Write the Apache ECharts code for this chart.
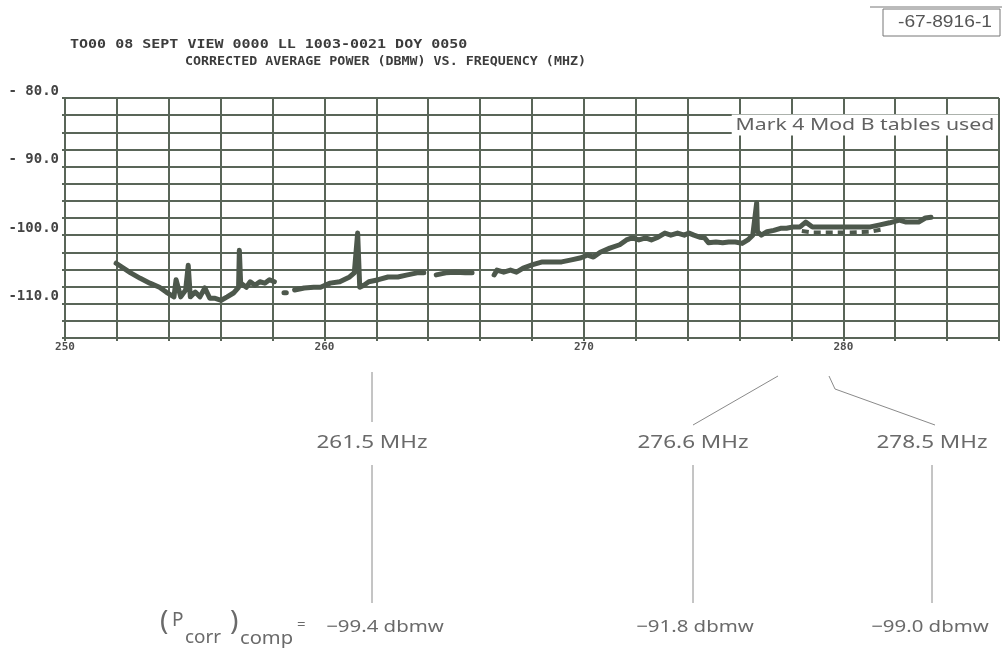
<!DOCTYPE html>
<html><head><meta charset="utf-8">
<script src="https://cdn.jsdelivr.net/npm/echarts@6/dist/echarts.min.js"></script>
<style>html,body{margin:0;padding:0;background:#fff}#c{width:1002px;height:648px}</style>
</head><body><div id="c"></div>
<script>
// ---- data ----
const titleLine1 = 'TO00 08 SEPT VIEW 0000 LL 1003-0021 DOY 0050';
const titleLine2 = 'CORRECTED AVERAGE POWER (DBMW) VS. FREQUENCY (MHZ)';
const figureId = '-67-8916-1';
const noteText = 'Mark 4 Mod B tables used';

const yTickValues = [-80, -90, -100, -110];
const yTickLabels = ['- 80.0', '- 90.0', '-100.0', '-110.0'];
const xTickValues = [250, 260, 270, 280];
const xTickLabels = ['250', '260', '270', '280'];

// main trace (MHz, dBmW); null = gap in the plotter trace
const freqMHz = [
  251.97,252.53,252.90,253.27,253.64,253.90,254.20,254.28,254.46,254.65,254.75,254.83,255.02,255.20,255.39,255.58,255.76,
  256.02,256.25,256.51,256.69,256.72,256.77,256.99,257.14,257.32,257.51,257.70,257.88,258.07,
  258.20,
  258.44,258.53,
  258.65,
  258.85,259.22,259.59,259.85,260.22,260.59,260.97,261.15,261.28,261.36,261.52,261.71,262.08,262.45,262.83,263.20,263.57,263.83,
  264.05,
  264.31,264.68,265.06,265.43,265.69,
  266.10,
  266.54,266.65,266.91,267.17,267.40,267.66,268.03,268.40,268.77,269.14,269.52,269.89,270.15,270.37,270.63,271.00,271.38,271.64,
  271.86,272.12,272.38,272.60,272.86,273.12,273.35,273.61,273.87,274.05,274.24,274.46,274.65,274.80,275.09,275.35,275.58,275.84,
  276.10,276.32,276.51,276.66,276.69,276.84,277.06,277.32,277.58,277.81,278.07,278.33,278.55,278.81,279.18,279.55,279.93,280.30,
  280.67,281.04,281.41,281.78,282.16,282.42,282.90,283.16,283.38
];
const powerDbmw = [
  -104.1,-105.5,-106.3,-107.0,-107.6,-108.3,-109.0,-106.5,-109.0,-108.0,-104.4,-109.0,-108.3,-109.0,-107.7,-109.2,-109.2,
  -109.5,-109.0,-108.4,-107.6,-102.2,-107.0,-107.6,-106.8,-107.3,-106.8,-107.0,-106.5,-106.8,
  null,
  -108.4,-108.4,
  null,
  -108.0,-107.7,-107.6,-107.6,-107.0,-106.8,-106.1,-105.5,-99.7,-107.6,-107.3,-106.8,-106.5,-106.1,-106.1,-105.8,-105.5,-105.5,
  null,
  -105.8,-105.5,-105.4,-105.5,-105.5,
  null,
  -105.8,-105.1,-105.4,-105.1,-105.4,-104.8,-104.3,-103.9,-103.9,-103.9,-103.6,-103.3,-102.9,-103.2,-102.5,-101.9,-101.4,-100.7,
  -100.4,-100.7,-100.4,-100.7,-100.3,-99.7,-100.0,-99.7,-100.0,-99.7,-100.0,-100.3,-100.4,-101.1,-101.0,-101.1,-101.0,-101.0,
  -101.2,-100.7,-100.0,-95.3,-99.5,-100.0,-99.5,-99.3,-99.0,-99.0,-98.8,-98.8,-98.1,-98.8,-98.8,-98.8,-98.8,-98.8,
  -98.8,-98.8,-98.5,-98.2,-97.8,-98.1,-98.1,-97.5,-97.4
];
// lower, broken (dashed) branch of the trace near 279-282 MHz
const lowerFreqMHz = [278.40, 278.80, 279.50, 280.30, 281.00, 281.60];
const lowerPowerDbmw = [-99.4, -99.6, -99.6, -99.6, -99.5, -99.1];

// call-outs below the plot
const calloutFreqs = ['261.5 MHz', '276.6 MHz', '278.5 MHz'];
const calloutValues = ['\u221299.4 dbmw', '\u221291.8 dbmw', '\u221299.0 dbmw'];

// ---- chart ----
const ink = '#596558';
const trace = '#4d584c';
const gray = '#6a6a6a';
const toPairs = (xs, ys) => xs.map((x, i) => [x, ys[i] === null ? '-' : ys[i]]);

const chart = echarts.init(document.getElementById('c'), null, {renderer: 'canvas'});

const annFont = '"Noto Sans", Lato, sans-serif';
const g = [];
// titles
g.push({type:'text', x:70, y:45, scaleX:1.25, style:{x:0, y:0, text:titleLine1, font:'bold 12px "DejaVu Sans Mono"', fill:'#3c3c3c', textVerticalAlign:'middle'}});
g.push({type:'text', x:185, y:62, scaleX:1.11, style:{x:0, y:0, text:titleLine2, font:'bold 12px "DejaVu Sans Mono"', fill:'#3c3c3c', textVerticalAlign:'middle'}});
// figure id box
g.push({type:'line', shape:{x1:870, y1:7, x2:1002, y2:7}, style:{stroke:'#777', lineWidth:1}});
g.push({type:'rect', shape:{x:883, y:9, width:117, height:27}, style:{fill:'none', stroke:'#777', lineWidth:1}});
g.push({type:'text', x:945, y:23, scaleX:1.2, style:{x:0, y:0, text:figureId, font:'16px "Liberation Sans Narrow", "Liberation Sans", sans-serif', fill:'#555', textAlign:'center', textVerticalAlign:'middle'}});
// note inside plot
g.push({type:'text', x:998, y:125, z:100, scaleX:1.25, style:{x:0, y:0, text:noteText, font:'17px ' + annFont, fill:'#626262', textAlign:'right', textVerticalAlign:'middle', backgroundColor:'#fff', padding:[2,3]}});
// callout leader lines
const lead = {stroke:'#8a8a8a', lineWidth:1};
g.push({type:'line', shape:{x1:372, y1:372, x2:372, y2:422}, style:lead});
g.push({type:'line', shape:{x1:778, y1:376, x2:693, y2:425}, style:lead});
g.push({type:'polyline', shape:{points:[[829,376],[835,389],[935,425]]}, style:{stroke:'#8a8a8a', lineWidth:1, fill:'none'}});
const cx = [372, 693, 932];
calloutFreqs.forEach((t, i) => {
  g.push({type:'text', x:cx[i], y:443, scaleX:1.25, style:{x:0, y:0, text:t, font:'18px ' + annFont, fill:gray, textAlign:'center', textVerticalAlign:'middle'}});
  g.push({type:'line', shape:{x1:cx[i], y1:465, x2:cx[i], y2:603}, style:lead});
});
const vx = [385, 695, 930];
calloutValues.forEach((t, i) => {
  g.push({type:'text', x:vx[i], y:627, scaleX:1.2, style:{x:0, y:0, text:t, font:'17px ' + annFont, fill:gray, textAlign:'center', textVerticalAlign:'middle'}});
});
// (P_corr)_comp =
const fs = (s) => s + 'px ' + annFont;
g.push({type:'text', x:160, y:622, style:{text:'(', font:fs(28), fill:gray, textVerticalAlign:'middle'}});
g.push({type:'text', x:172, y:621, style:{text:'P', font:fs(19), fill:gray, textVerticalAlign:'middle'}});
g.push({type:'text', x:185, y:638, scaleX:1.05, style:{x:0, y:0, text:'corr', font:fs(18), fill:gray, textVerticalAlign:'middle'}});
g.push({type:'text', x:230, y:622, style:{text:')', font:fs(28), fill:gray, textVerticalAlign:'middle'}});
g.push({type:'text', x:240, y:639, scaleX:1.12, style:{x:0, y:0, text:'comp', font:fs(18), fill:gray, textVerticalAlign:'middle'}});
g.push({type:'text', x:297, y:625, style:{text:'=', font:fs(15), fill:gray, textVerticalAlign:'middle'}});

const option = {
  backgroundColor: '#ffffff',
  animation: false,
  grid: {left: 65, top: 98, height: 240, width: 968.4, containLabel: false},
  xAxis: {
    type: 'value', min: 250, max: 286, interval: 2,
    axisLine: {show: true, lineStyle: {color: ink, width: 2}},
    axisTick: {show: true, length: 3, lineStyle: {color: ink, width: 2}},
    splitLine: {show: true, lineStyle: {color: ink, width: 2}},
    axisLabel: {
      margin: 4, fontSize: 11, fontWeight: 'bold', color: '#4f4f4f', fontFamily: '"DejaVu Sans Mono", monospace',
      formatter: (v) => { const k = xTickValues.indexOf(v); return k < 0 ? '' : xTickLabels[k]; }
    }
  },
  yAxis: {
    type: 'value', min: -115, max: -80, interval: 2.5,
    axisLine: {show: true, lineStyle: {color: ink, width: 2}},
    axisTick: {show: true, length: 3, lineStyle: {color: ink, width: 2}},
    splitLine: {show: true, lineStyle: {color: ink, width: 2}},
    axisLabel: {
      margin: 6, fontSize: 14, fontWeight: 'bold', color: '#444', fontFamily: '"DejaVu Sans Mono", monospace',
      verticalAlign: 'bottom',
      formatter: (v) => { const k = yTickValues.indexOf(v); return k < 0 ? '' : yTickLabels[k]; }
    }
  },
  series: [
    {type: 'line', name: 'corrected power', data: toPairs(freqMHz, powerDbmw), showSymbol: false, connectNulls: false,
     lineStyle: {color: trace, width: 5, join: 'round', cap: 'round'}, z: 5},
    {type: 'line', name: 'lower branch', data: toPairs(lowerFreqMHz, lowerPowerDbmw), showSymbol: false,
     lineStyle: {color: trace, width: 4, type: [7, 5]}, z: 5}
  ],
  graphic: g
};
chart.setOption(option);
</script></body></html>
